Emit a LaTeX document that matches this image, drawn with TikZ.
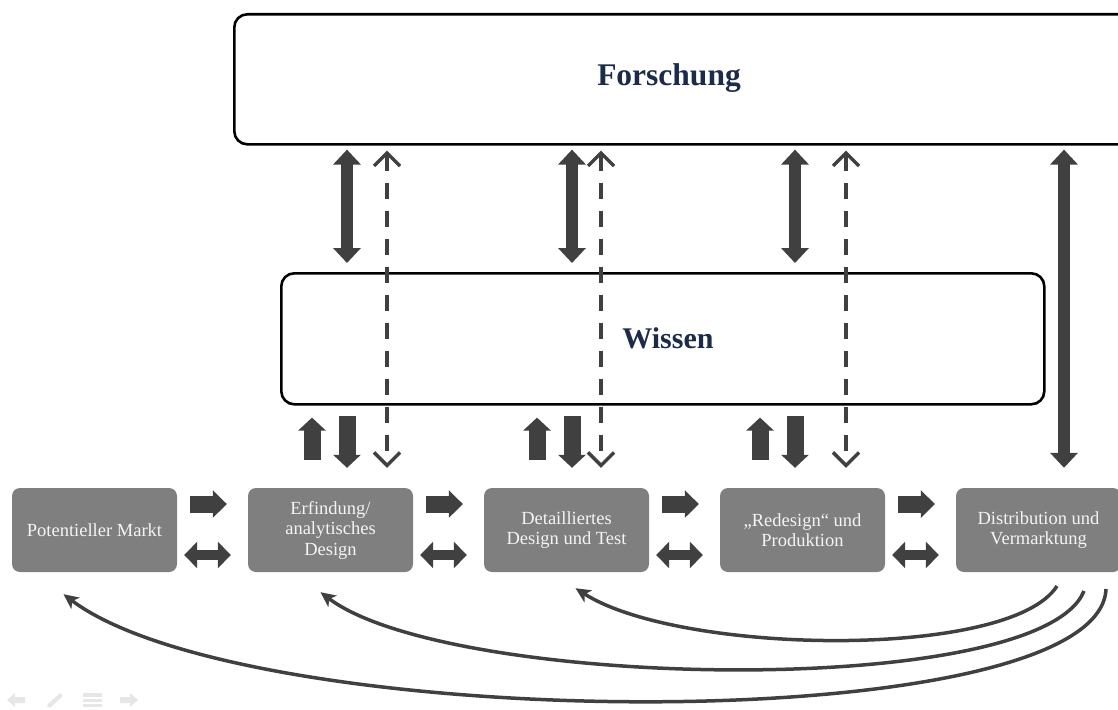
\documentclass[tikz,border=0pt]{standalone}
\usepackage{fontspec}
\setmainfont{Liberation Serif}
\usetikzlibrary{arrows.meta,calc}

\definecolor{arrowgray}{HTML}{404040}
\definecolor{boxgray}{HTML}{7F7F7F}
\definecolor{boxtext}{HTML}{F4F4F4}
\definecolor{titleblue}{HTML}{1C2B4A}
\definecolor{navgray}{HTML}{E6E6E6}

\begin{document}
\begin{tikzpicture}[x=1pt,y=-1pt,
  panel/.style={draw=black, line width=2.6pt, rounded corners=13pt, fill=white,
    anchor=north west, inner sep=0pt},
  title/.style={font=\bfseries\fontsize{#1}{34}\selectfont, text=titleblue, inner sep=0pt},
  title/.default=30,
  stage/.style={fill=boxgray, rounded corners=8pt, minimum width=165pt, minimum height=84pt,
    inner sep=2pt, align=center, text=boxtext, font=\fontsize{18.5}{20.5}\selectfont},
  blockright/.style={draw=arrowgray, line width=17pt, -{Triangle[length=14pt,width=27pt]}},
  blockboth/.style={draw=arrowgray, line width=10pt,
    {Triangle[length=13pt,width=26pt]}-{Triangle[length=13pt,width=26pt]}},
  blockvert/.style={draw=arrowgray, line width=12pt,
    {Triangle[length=15pt,width=27pt]}-{Triangle[length=15pt,width=27pt]}},
  blockup/.style={draw=arrowgray, line width=17pt, -{Triangle[length=13pt,width=27pt]}},
  dasharrow/.style={draw=arrowgray, line width=3.5pt, dash pattern=on 16pt off 12pt,
    {Straight Barb[length=13pt,width=26pt,line width=3.4pt]}-{Straight Barb[length=13pt,width=26pt,line width=3.4pt]}},
  feedback/.style={draw=arrowgray, line width=3.5pt,
    -{Stealth[length=15pt,width=14pt,inset=4pt]}}
]
\useasboundingbox (0,0) rectangle (1118,709);

% upper panels
\node[panel, minimum width=900pt, minimum height=130pt] (forsch) at (233,13) {};
\node[title=31.5] (forschlabel) at (669,78) {Forschung};
\node[panel, minimum width=763pt, minimum height=131pt] (wissen) at (280,272) {};
\node[title] (wissenlabel) at (668,338) {Wissen};

% process stages
\node[stage] (s1) at (94.5,530)  {Potentieller Markt};
\node[stage] (s2) at (330.5,530) {Erfindung/\\analytisches\\Design};
\node[stage] (s3) at (566.5,530) {Detailliertes\\Design und Test};
\node[stage] (s4) at (802.5,530) {„Redesign“ und\\Produktion};
\node[stage] (s5) at (1038.5,530) {Distribution und\\Vermarktung};

% forward and two-way links between neighbouring stages
\foreach \a/\b in {s1/s2,s2/s3,s3/s4,s4/s5}{
  \draw[blockright] ($(\a.east)+(13,-26)$) -- ($(\b.west)+(-21,-26)$);
  \draw[blockboth] ($(\a.east)+(7,25)$) -- ($(\b.west)+(-17,25)$);
}

% column positions of the vertical links
\coordinate (up1) at (312,0);  \coordinate (dn1) at (347,0);  \coordinate (da1) at (387,0);
\coordinate (up2) at (537,0);  \coordinate (dn2) at (572,0);  \coordinate (da2) at (601,0);
\coordinate (up3) at (760,0);  \coordinate (dn3) at (795,0);  \coordinate (da3) at (846,0);
\coordinate (lg)  at (1064,0);

% research <-> knowledge
\foreach \k in {1,2,3}{
  \draw[blockvert, shorten <=4pt, shorten >=9pt] (dn\k |- forsch.south) -- (dn\k |- wissen.north);
}

% knowledge <-> stages
\draw[blockup, shorten <=28pt, shorten >=12pt] (up1 |- s2.north) -- (up1 |- wissen.south);
\draw[blockup, shorten <=10pt, shorten >=20pt] (dn1 |- wissen.south) -- (dn1 |- s2.north);
\draw[blockup, shorten <=28pt, shorten >=12pt] (up2 |- s3.north) -- (up2 |- wissen.south);
\draw[blockup, shorten <=10pt, shorten >=20pt] (dn2 |- wissen.south) -- (dn2 |- s3.north);
\draw[blockup, shorten <=28pt, shorten >=12pt] (up3 |- s4.north) -- (up3 |- wissen.south);
\draw[blockup, shorten <=10pt, shorten >=20pt] (dn3 |- wissen.south) -- (dn3 |- s4.north);

% research <-> stages, passing through knowledge
\draw[dasharrow, shorten <=5pt, shorten >=20pt] (da1 |- forsch.south) -- (da1 |- s2.north);
\draw[dasharrow, shorten <=5pt, shorten >=20pt] (da2 |- forsch.south) -- (da2 |- s3.north);
\draw[dasharrow, shorten <=5pt, shorten >=20pt] (da3 |- forsch.south) -- (da3 |- s4.north);
\draw[blockvert, shorten <=4pt, shorten >=20pt] (lg |- forsch.south) -- (lg |- s5.north);

% feedback loops from distribution back to earlier stages
\coordinate (fb1) at (1057,586);
\coordinate (fb2) at (1084,591);
\coordinate (fb3) at (1106,589);
\draw[feedback] (fb1) .. controls (1010,660) and (680,655) .. ($(s3.south)+(9,16)$);
\draw[feedback] (fb2) .. controls (1040,700) and (450,690) .. ($(s2.south)+(-10,20)$);
\draw[feedback] (fb3) .. controls (1100,740) and (250,735) .. ($(s1.south)+(-31,22)$);

% viewer controls
\fill[navgray] (7,700) -- (15,693) -- (15,697) -- (25,697) -- (25,703) -- (15,703) -- (15,707) -- cycle;
\fill[navgray] (47,707) -- (48,704) -- (60,693) -- (63,696) -- (51,707) -- cycle;
\fill[navgray] (83,693) rectangle (102,697);
\fill[navgray] (83,698.5) rectangle (102,702);
\fill[navgray] (83,703.5) rectangle (102,707);
\fill[navgray] (138,700) -- (130,693) -- (130,697) -- (120,697) -- (120,703) -- (130,703) -- (130,707) -- cycle;
\end{tikzpicture}
\end{document}
